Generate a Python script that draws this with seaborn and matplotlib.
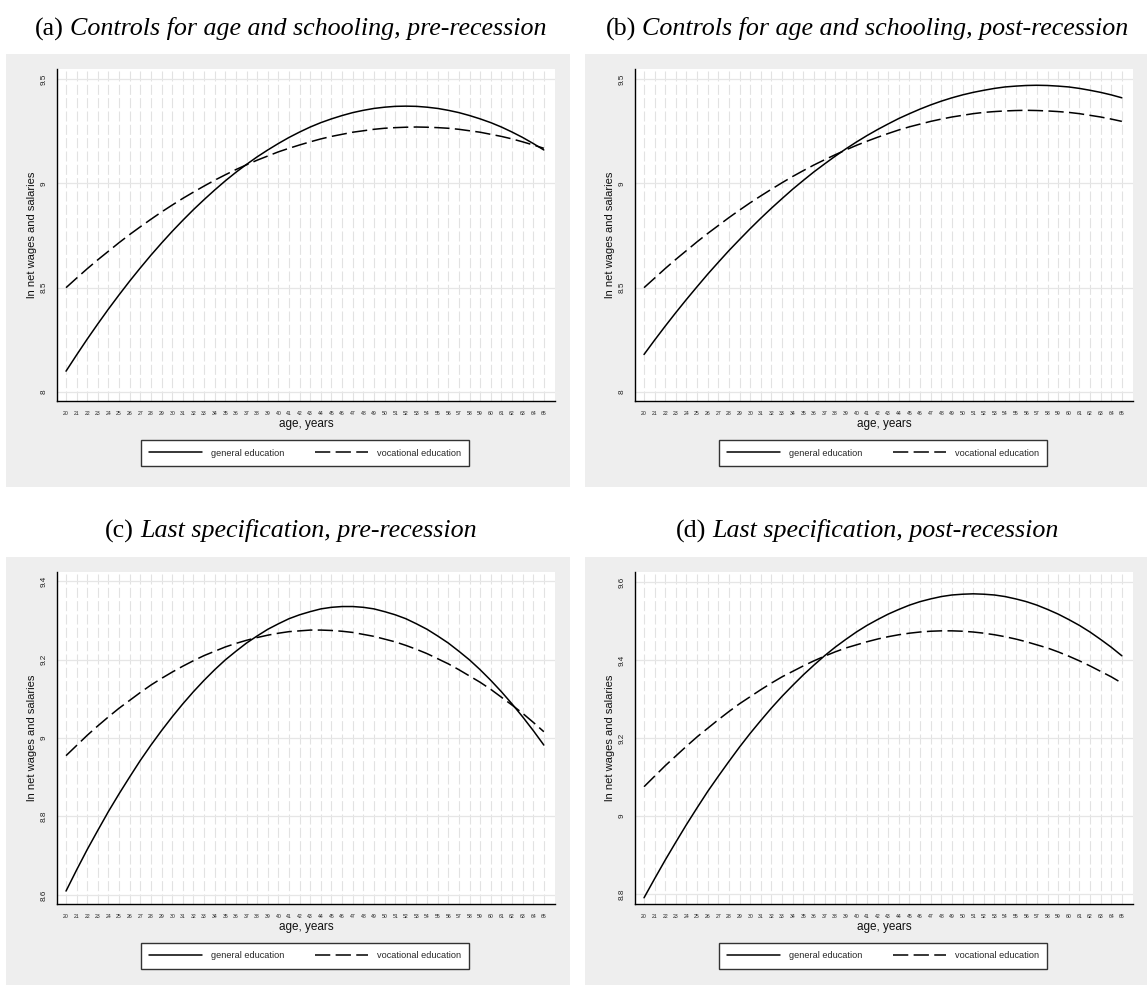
import numpy as np
import pandas as pd
import matplotlib
matplotlib.use("Agg")
import matplotlib.pyplot as plt
from matplotlib.patches import Rectangle
from matplotlib.lines import Line2D
import seaborn as sns

# ---- data -------------------------------------------------------------
ages = list(range(20, 66))

a_general = [8.100, 8.178, 8.254, 8.327, 8.398, 8.466, 8.532, 8.595, 8.656, 8.714,
             8.770, 8.823, 8.874, 8.922, 8.968, 9.012, 9.053, 9.091, 9.127, 9.160,
             9.191, 9.220, 9.246, 9.270, 9.291, 9.309, 9.325, 9.339, 9.350, 9.359,
             9.365, 9.369, 9.370, 9.369, 9.365, 9.359, 9.350, 9.339, 9.325, 9.309,
             9.291, 9.270, 9.246, 9.220, 9.191, 9.160]
a_vocational = [8.500, 8.546, 8.591, 8.634, 8.675, 8.716, 8.755, 8.792, 8.828, 8.863,
                8.896, 8.928, 8.958, 8.987, 9.015, 9.041, 9.066, 9.089, 9.111, 9.131,
                9.151, 9.168, 9.184, 9.199, 9.213, 9.225, 9.235, 9.245, 9.252, 9.259,
                9.264, 9.267, 9.269, 9.270, 9.269, 9.267, 9.264, 9.259, 9.252, 9.245,
                9.235, 9.225, 9.213, 9.199, 9.184, 9.168]

b_general = [8.180, 8.249, 8.316, 8.381, 8.444, 8.505, 8.565, 8.622, 8.678, 8.731,
             8.783, 8.833, 8.881, 8.927, 8.972, 9.014, 9.055, 9.093, 9.130, 9.165,
             9.198, 9.229, 9.258, 9.285, 9.311, 9.334, 9.356, 9.376, 9.394, 9.410,
             9.424, 9.436, 9.446, 9.455, 9.462, 9.466, 9.469, 9.470, 9.469, 9.466,
             9.462, 9.455, 9.446, 9.436, 9.424, 9.410]
b_vocational = [8.500, 8.546, 8.592, 8.636, 8.678, 8.720, 8.760, 8.798, 8.836, 8.872,
                8.907, 8.940, 8.972, 9.003, 9.033, 9.061, 9.088, 9.113, 9.137, 9.160,
                9.182, 9.202, 9.221, 9.239, 9.256, 9.271, 9.284, 9.297, 9.308, 9.318,
                9.326, 9.334, 9.340, 9.344, 9.347, 9.349, 9.350, 9.349, 9.347, 9.344,
                9.340, 9.334, 9.326, 9.318, 9.308, 9.297]

c_general = [8.610, 8.664, 8.716, 8.765, 8.813, 8.858, 8.901, 8.943, 8.982, 9.019,
             9.054, 9.087, 9.118, 9.147, 9.174, 9.199, 9.221, 9.242, 9.260, 9.277,
             9.291, 9.304, 9.314, 9.322, 9.329, 9.333, 9.335, 9.335, 9.333, 9.329,
             9.322, 9.314, 9.304, 9.291, 9.277, 9.260, 9.242, 9.221, 9.199, 9.174,
             9.147, 9.118, 9.087, 9.054, 9.019, 8.982]
c_vocational = [8.955, 8.981, 9.007, 9.031, 9.054, 9.076, 9.096, 9.116, 9.135, 9.152,
                9.168, 9.183, 9.197, 9.210, 9.221, 9.232, 9.241, 9.249, 9.256, 9.262,
                9.267, 9.271, 9.273, 9.275, 9.275, 9.274, 9.272, 9.269, 9.264, 9.259,
                9.252, 9.245, 9.236, 9.226, 9.215, 9.202, 9.189, 9.174, 9.158, 9.142,
                9.124, 9.104, 9.084, 9.063, 9.040, 9.016]

d_general = [8.790, 8.839, 8.887, 8.933, 8.978, 9.021, 9.063, 9.102, 9.140, 9.177,
             9.212, 9.245, 9.277, 9.307, 9.335, 9.362, 9.387, 9.411, 9.433, 9.453,
             9.472, 9.489, 9.504, 9.518, 9.530, 9.541, 9.550, 9.557, 9.563, 9.567,
             9.569, 9.570, 9.569, 9.567, 9.563, 9.557, 9.550, 9.541, 9.530, 9.518,
             9.504, 9.489, 9.472, 9.453, 9.433, 9.411]
d_vocational = [9.075, 9.102, 9.129, 9.154, 9.179, 9.203, 9.225, 9.247, 9.268, 9.288,
                9.306, 9.324, 9.341, 9.357, 9.371, 9.385, 9.398, 9.410, 9.421, 9.431,
                9.439, 9.447, 9.454, 9.460, 9.465, 9.469, 9.472, 9.474, 9.475, 9.475,
                9.474, 9.472, 9.469, 9.465, 9.460, 9.454, 9.447, 9.439, 9.431, 9.421,
                9.410, 9.398, 9.385, 9.371, 9.357, 9.341]

panel_tags = ["(a)", "(b)", "(c)", "(d)"]
panel_titles = ["Controls for age and schooling, pre-recession",
                "Controls for age and schooling, post-recession",
                "Last specification, pre-recession",
                "Last specification, post-recession"]
yticks_ab = [8, 8.5, 9, 9.5]
ytick_labels_ab = ["8", "8.5", "9", "9.5"]
yticks_c = [8.6, 8.8, 9, 9.2, 9.4]
ytick_labels_c = ["8.6", "8.8", "9", "9.2", "9.4"]
yticks_d = [8.8, 9, 9.2, 9.4, 9.6]
ytick_labels_d = ["8.8", "9", "9.2", "9.4", "9.6"]
series_labels = ["general education", "vocational education"]
x_label = "age, years"
y_label = "ln net wages and salaries"

# ---- figure -----------------------------------------------------------
sns.set_theme(style="white")
plt.rcParams["font.family"] = ["Liberation Sans", "DejaVu Sans"]

W, H = 1147, 985
fig = plt.figure(figsize=(W / 100, H / 100), dpi=100)
fig.patch.set_facecolor("white")

GRAY = "#eeeeee"
DASH = (0, (10, 3.5))


def fx(px):
    return px / W


def fy(py):
    return 1 - py / H


panels = [
    dict(gen=a_general, voc=a_vocational, yt=yticks_ab, ytl=ytick_labels_ab,
         ylim=(7.957, 9.548), bg=(6, 54, 570, 487), ax=(57, 69, 555, 401),
         tcx=291, tcy=29, leg=(305, 453)),
    dict(gen=b_general, voc=b_vocational, yt=yticks_ab, ytl=ytick_labels_ab,
         ylim=(7.957, 9.548), bg=(585, 54, 1147, 487), ax=(635, 69, 1133, 401),
         tcx=867, tcy=29, leg=(883, 453)),
    dict(gen=c_general, voc=c_vocational, yt=yticks_c, ytl=ytick_labels_c,
         ylim=(8.577, 9.423), bg=(6, 557, 570, 985), ax=(57, 572, 555, 904),
         tcx=291, tcy=531, leg=(305, 956)),
    dict(gen=d_general, voc=d_vocational, yt=yticks_d, ytl=ytick_labels_d,
         ylim=(8.774, 9.626), bg=(585, 557, 1147, 985), ax=(635, 572, 1133, 904),
         tcx=867, tcy=531, leg=(883, 956)),
]

renderer = fig.canvas.get_renderer()
TITLE_FS = 18.7

for i, p in enumerate(panels):
    # light gray panel background behind each graph
    x0, y0, x1, y1 = p["bg"]
    fig.patches.append(Rectangle((fx(x0), fy(y1)), fx(x1 - x0), (y1 - y0) / H,
                                 transform=fig.transFigure, facecolor=GRAY,
                                 edgecolor="none", zorder=-5))

    ax0, ay0, ax1, ay1 = p["ax"]
    ax = fig.add_axes([fx(ax0), fy(ay1), fx(ax1 - ax0), (ay1 - ay0) / H])
    ax.set_zorder(1)
    ax.set_facecolor("white")

    # grid: dashed verticals at each age, solid horizontals at y ticks
    for a in ages:
        ax.axvline(a, color="#e2e2e2", lw=0.8, linestyle=(0, (9, 3)), zorder=0)
    for yv in p["yt"]:
        ax.axhline(yv, color="#e6e6e6", lw=0.9, zorder=0)

    sns.lineplot(x=ages, y=p["gen"], ax=ax, color="black", lw=1.1,
                 label=series_labels[0], legend=False)
    sns.lineplot(x=ages, y=p["voc"], ax=ax, color="black", lw=1.1,
                 linestyle=DASH, label=series_labels[1], legend=False)

    ax.set_xlim(19.15, 66.05)
    ax.set_ylim(*p["ylim"])
    ax.set_xticks(ages)
    ax.set_xticklabels([str(a) for a in ages], fontsize=3.7, color="#222222")
    ax.set_yticks(p["yt"])
    ax.set_yticklabels(p["ytl"], fontsize=5.9, rotation=90, va="center",
                       color="#222222")
    ax.tick_params(axis="both", direction="out", length=4.5, width=0.8,
                   color="black", pad=2.5)
    for side in ("top", "right"):
        ax.spines[side].set_visible(False)
    for side in ("left", "bottom"):
        ax.spines[side].set_color("black")
        ax.spines[side].set_linewidth(1.0)
    ax.set_xlabel(x_label, fontsize=8.5, labelpad=1.5, color="#111111")
    ax.set_ylabel(y_label, fontsize=8, labelpad=2.2, color="#111111")

    handles = [Line2D([], [], color="black", lw=1.1),
               Line2D([], [], color="black", lw=1.1, linestyle=DASH)]
    lx, ly = p["leg"]
    leg = ax.legend(handles, series_labels, loc="center",
                    bbox_to_anchor=(fx(lx), fy(ly)), bbox_transform=fig.transFigure,
                    ncol=2, fontsize=6.6, frameon=True, fancybox=False,
                    handlelength=5.8, handletextpad=0.9, columnspacing=3.4,
                    borderpad=0.9, borderaxespad=0)
    leg.get_frame().set_edgecolor("#333333")
    leg.get_frame().set_linewidth(1.0)
    leg.get_frame().set_facecolor("white")
    leg.get_frame().set_alpha(1)

    # title: upright tag followed by italic description, centred over panel
    t1 = fig.text(0, fy(p["tcy"]), panel_tags[i], fontfamily="Liberation Serif",
                  fontsize=TITLE_FS, va="center", ha="left", color="black")
    t2 = fig.text(0, fy(p["tcy"]), panel_titles[i], fontfamily="Liberation Serif",
                  fontsize=TITLE_FS, style="italic", va="center", ha="left",
                  color="black")
    w1 = t1.get_window_extent(renderer).width
    w2 = t2.get_window_extent(renderer).width
    gap = 0.25 * TITLE_FS * 100 / 72
    start = p["tcx"] - (w1 + gap + w2) / 2
    t1.set_x(fx(start))
    t2.set_x(fx(start + w1 + gap))

fig.savefig("out.png", dpi=100)
